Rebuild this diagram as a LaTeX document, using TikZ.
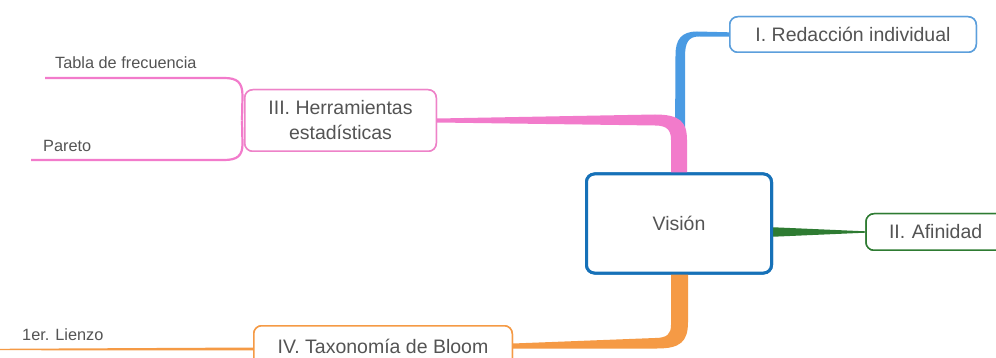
\documentclass[tikz,border=0pt]{standalone}
\usepackage{fontspec}
\setmainfont{Liberation Sans}
\usetikzlibrary{calc}
\definecolor{txt}{HTML}{545454}
\definecolor{visb}{HTML}{1671B8}
\definecolor{redb}{HTML}{5C9FDC}
\definecolor{bluec}{HTML}{4A9BE3}
\definecolor{pinkc}{HTML}{F27BCB}
\definecolor{pinkb}{HTML}{EE82C8}
\definecolor{orc}{HTML}{F59A45}
\definecolor{grc}{HTML}{2E7B32}
\tikzset{
  topic/.style={draw, fill=white, rounded corners=8pt, text=txt, inner sep=0pt,
    align=center, line width=1.5pt, font=\fontsize{19.5}{25}\selectfont},
  central/.style={topic, line width=3pt, draw=visb},
  subtext/.style={anchor=west, inner sep=0pt, text=txt, font=\fontsize{16.3}{20}\selectfont},
}
\begin{document}
\begin{tikzpicture}[x=1pt,y=-1pt]
\useasboundingbox (0,0) rectangle (996,358);
\fill[white] (0,0) rectangle (996,358);
\clip (0,0) rectangle (996,358);

% nodes (positions)
\node[central, minimum width=185pt, minimum height=99pt] (vis) at (679,223.5) {Visión};
\node[topic, draw=redb, minimum width=246.5pt, minimum height=35.5pt] (red) at (853,34.5) {I. Redacción individual};
\node[topic, draw=grc, minimum width=140pt, minimum height=36.5pt] (afi) at (936,232) {};
\node[topic, draw=pinkb, minimum width=191.5pt, minimum height=61.5pt] (her) at (340.5,120.5) {};
\node[topic, draw=orc, minimum width=258.5pt, minimum height=40.5pt] (tax) at (383,346) {};

\coordinate (tabend) at (45,78);
\coordinate (parend) at (31,160);
\coordinate (lieend) at (0,349.5);

% connectors
\fill[bluec] ($(vis.north)+(-4,6)$) -- (675,140) -- (675.5,55) .. controls (675.5,40) and (681,31.5) .. (697,31.5)
  -- ($(red.west)+(0,-2.2)$) -- ($(red.west)+(0,2.2)$) -- (699,36.5) .. controls (688,36.5) and (685,43) .. (685,57)
  -- (685,140) -- ($(vis.north)+(4,6)$) -- cycle;
\fill[pinkc] ($(vis.north)+(-8,6)$) -- (671,140) .. controls (671,130) and (667,125.5) .. (655,125.5)
  -- ($(her.east)+(0,2)$) -- ($(her.east)+(0,-2)$) -- (655,114.5) .. controls (680,114.5) and (687,122) .. (687,140)
  -- ($(vis.north)+(8,6)$) -- cycle;
\fill[orc] ($(vis.south)+(-8,-6)$) -- (671,325) .. controls (671,334) and (667,338) .. (655,338)
  -- ($(tax.east)+(0,-2.5)$) -- ($(tax.east)+(0,2.5)$) -- (657,348.5) .. controls (680,348.5) and (688,342) .. (688,322)
  -- ($(vis.south)+(9,-6)$) -- cycle;
\fill[grc] ($(vis.east)+(-6,3.5)$) -- ($(afi.west)+(0,-0.7)$) -- ($(afi.west)+(0,0.7)$) -- ($(vis.east)+(-6,13.5)$) -- cycle;
\draw[pinkc, line width=2.2pt] ($(her.west)+(-2,0)$) -- (242.5,96) .. controls (242.5,82) and (237,78) .. (224,78) -- (tabend);
\draw[pinkc, line width=2.2pt] ($(her.west)+(-2,0)$) -- (242.5,144) .. controls (242.5,156) and (237,160) .. (224,160) -- (parend);
\fill[orc] ($(tax.west)+(1,1.5)$) -- ($(tax.west)+(1,4.5)$) -- ($(lieend)+(0,0.7)$) -- ($(lieend)+(0,-0.7)$) -- cycle;

% redraw nodes on top
\node[central, minimum width=185pt, minimum height=99pt] at (vis) {Visión};
\node[topic, draw=redb, minimum width=246.5pt, minimum height=35.5pt] at (red) {I. Redacción individual};
\node[topic, draw=grc, minimum width=140pt, minimum height=36.5pt, text width=118pt, align=left] at (afi) {\hspace*{12pt}II. Afinidad};
\node[topic, draw=pinkb, minimum width=191.5pt, minimum height=61.5pt] at (her) {III. Herramientas\\estadísticas};
\node[topic, draw=orc, minimum width=258.5pt, minimum height=40.5pt] at (tax) {IV. Taxonomía de Bloom};

\node[subtext] (tab) at (55,63) {Tabla de frecuencia};
\node[subtext] (par) at (43,146) {Pareto};
\node[subtext] (lie) at (22,335) {1er. Lienzo};
\end{tikzpicture}
\end{document}
